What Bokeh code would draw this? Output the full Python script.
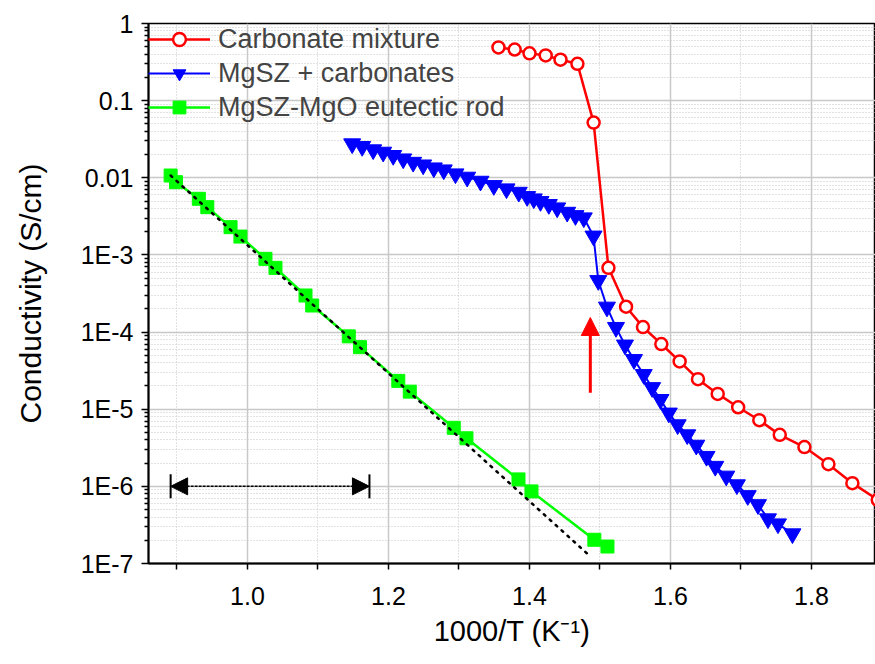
from bokeh.plotting import figure
from bokeh.models import (FixedTicker, CustomJSTickFormatter, PrintfTickFormatter,
                          Arrow, NormalHead, Legend, LegendItem, Range1d, ColumnDataSource)
from bokeh.embed import file_html
from bokeh.resources import INLINE

# ---- data ----
carb_x = [1.356, 1.379, 1.400, 1.423, 1.444, 1.468, 1.491, 1.512, 1.537, 1.561, 1.587,
          1.613, 1.639, 1.667, 1.696, 1.726, 1.755, 1.790, 1.824, 1.858, 1.894]
carb_y = [0.49, 0.46, 0.41, 0.385, 0.34, 0.30, 0.052, 6.8e-4, 2.13e-4, 1.16e-4, 7.0e-5,
          4.17e-5, 2.45e-5, 1.58e-5, 1.06e-5, 7.2e-6, 4.65e-6, 3.23e-6, 1.94e-6, 1.10e-6, 6.7e-7]

mgsz_x = [1.1485, 1.1627, 1.1783, 1.1925, 1.2067, 1.2209, 1.2350, 1.2492, 1.2643, 1.2784,
          1.2950, 1.3116, 1.3305, 1.3494, 1.3674, 1.3848, 1.3967, 1.4061, 1.4156, 1.4274,
          1.4393, 1.4535, 1.4652, 1.4770,
          1.4908, 1.4976, 1.5099, 1.5227, 1.5355, 1.5482, 1.5621, 1.5740, 1.5858, 1.5976,
          1.6102, 1.6238, 1.6366, 1.6511, 1.6635, 1.6791, 1.6942, 1.7096, 1.7241, 1.7383,
          1.7525, 1.7730]
mgsz_y = [0.0276, 0.0255, 0.0231, 0.0215, 0.0195, 0.0176, 0.0159, 0.0147, 0.01346, 0.01268,
          0.01126, 0.0102, 0.00904, 0.00794, 0.00720, 0.0065, 0.00572, 0.00534, 0.00493, 0.00451,
          0.00408, 0.00358, 0.00324, 0.00303,
          1.76e-3, 4.66e-4, 2.11e-4, 1.15e-4, 6.8e-5, 4.41e-5, 2.82e-5, 1.91e-5, 1.34e-5, 8.93e-6,
          6.3e-6, 4.67e-6, 3.42e-6, 2.45e-6, 1.82e-6, 1.36e-6, 1.05e-6, 7.6e-7, 5.8e-7, 3.8e-7,
          3.27e-7, 2.43e-7]

rod_x = [0.891, 0.8986, 0.931, 0.943, 0.976, 0.990, 1.0255, 1.0397, 1.0823, 1.0918,
         1.1437, 1.1596, 1.2139, 1.2302, 1.2926, 1.3106, 1.3844, 1.4028, 1.492, 1.5106]
rod_y = [0.0107, 0.00877, 0.00534, 0.00416, 0.00229, 0.00173, 8.9e-4, 6.8e-4, 2.98e-4, 2.21e-4,
         8.8e-5, 6.37e-5, 2.33e-5, 1.69e-5, 5.74e-6, 4.2e-6, 1.23e-6, 8.6e-7, 2.03e-7, 1.66e-7]

fit_x = [0.891, 1.4865]
fit_y = [0.0107, 1.23e-7]

span_x = [0.891, 1.173]      # double arrow extent
span_y = 1e-6
span_bar = [0.70e-6, 1.43e-6]
red_arrow_x = 1.4863
red_arrow_y = [1.64e-5, 1.545e-4]

x_major = [1.0, 1.2, 1.4, 1.6, 1.8]
x_minor = [0.9, 1.1, 1.3, 1.5, 1.7, 1.9]
y_major = [1e-7, 1e-6, 1e-5, 1e-4, 1e-3, 1e-2, 1e-1, 1.0]
y_minor = [m * 10.0 ** k for k in range(-7, 0) for m in range(2, 10)]

RED = "#ff0000"
BLUE = "#0000ff"
GREEN = "#00ff00"
FONT = "Liberation Sans"
NARROW = "'Liberation Sans Narrow', 'Liberation Sans'"

p = figure(width=875, height=664, y_axis_type="log",
           x_range=Range1d(0.8596, 1.8908), y_range=Range1d(1e-7, 1.0),
           output_backend="svg", toolbar_location=None,
           min_border_left=148, min_border_right=0, min_border_top=23, min_border_bottom=101)

p.background_fill_color = "white"
p.border_fill_color = "white"
p.outline_line_color = "black"
p.outline_line_width = 1.5

# axes
p.xaxis.ticker = FixedTicker(ticks=x_major, minor_ticks=x_minor)
p.yaxis.ticker = FixedTicker(ticks=y_major, minor_ticks=y_minor)
p.xaxis.formatter = PrintfTickFormatter(format="%.1f")
p.yaxis.formatter = CustomJSTickFormatter(code="""
const e = Math.round(Math.log10(tick));
if (e >= -2) { return (Math.pow(10, e)).toFixed(Math.max(0, -e)); }
return "1E" + e;
""")
for ax in (p.xaxis[0], p.yaxis[0]):
    ax.axis_line_width = 2
    ax.axis_line_color = "black"
    ax.major_tick_line_width = 1.5
    ax.minor_tick_line_width = 1.5
    ax.major_tick_in = 0
    ax.minor_tick_in = 0
    ax.axis_label_text_font_style = "normal"
    ax.major_label_text_color = "black"
    ax.axis_label_text_color = "black"

p.yaxis.major_tick_out = 7
p.yaxis.minor_tick_out = 4
p.yaxis.major_label_standoff = 8
p.yaxis.major_label_text_font = FONT
p.yaxis.major_label_text_font_size = "25px"
p.yaxis.axis_label = "Conductivity (S/cm)"
p.yaxis.axis_label_text_font = FONT
p.yaxis.axis_label_text_font_size = "30px"
p.yaxis.axis_label_standoff = 31

p.xaxis.major_tick_out = 6
p.xaxis.minor_tick_out = 6
p.xaxis.major_label_standoff = 17
p.xaxis.major_label_text_font = NARROW
p.xaxis.major_label_text_font_size = "25px"
p.xaxis.axis_label = "1000/T (K\u207b\u00b9)"
p.xaxis.axis_label_text_font = NARROW
p.xaxis.axis_label_text_font_size = "29px"
p.xaxis.axis_label_standoff = 7

# grids
for g in (p.xgrid[0], p.ygrid[0]):
    g.grid_line_color = "#c8c8c8"
    g.grid_line_width = 1.5
    g.minor_grid_line_color = "#c4c4c4"
    g.minor_grid_line_width = 1
    g.minor_grid_line_dash = "1 2"

# series
src_c = ColumnDataSource(dict(x=carb_x, y=carb_y))
src_m = ColumnDataSource(dict(x=mgsz_x, y=mgsz_y))
src_r = ColumnDataSource(dict(x=rod_x, y=rod_y))

ml = p.line("x", "y", source=src_m, line_color=BLUE, line_width=2)
ms = p.scatter("x", "y", source=src_m, marker="inverted_triangle", size=17,
               fill_color=BLUE, line_color=BLUE)

rl = p.line("x", "y", source=src_r, line_color=GREEN, line_width=2.5)
rs = p.scatter("x", "y", source=src_r, marker="square", size=13,
               fill_color=GREEN, line_color=GREEN)

cl = p.line("x", "y", source=src_c, line_color=RED, line_width=2.5)
cs = p.scatter("x", "y", source=src_c, marker="circle", size=12,
               fill_color="white", line_color=RED, line_width=2.5)

# fit line (dotted) on top
p.line(fit_x, fit_y, line_color="black", line_width=2.5, line_dash="2 6", line_cap="round")

# double-headed span arrow
p.add_layout(Arrow(start=NormalHead(size=17, fill_color="black", line_color="black"),
                   end=NormalHead(size=17, fill_color="black", line_color="black"),
                   x_start=span_x[0], y_start=span_y, x_end=span_x[1], y_end=span_y,
                   line_color="black", line_width=1.5, line_dash="3 1"))
p.segment(x0=span_x, y0=[span_bar[0]] * 2, x1=span_x, y1=[span_bar[1]] * 2,
          line_color="black", line_width=2)

# red arrow
p.add_layout(Arrow(end=NormalHead(size=18, fill_color=RED, line_color=RED),
                   x_start=red_arrow_x, y_start=red_arrow_y[0],
                   x_end=red_arrow_x, y_end=red_arrow_y[1],
                   line_color=RED, line_width=3))

legend = Legend(items=[LegendItem(label="Carbonate mixture", renderers=[cl, cs]),
                       LegendItem(label="MgSZ + carbonates", renderers=[ml, ms]),
                       LegendItem(label="MgSZ-MgO eutectic rod", renderers=[rl, rs])],
                location="top_left")
legend.margin = 0
legend.padding = 2
legend.spacing = 2
legend.glyph_width = 62
legend.glyph_height = 32
legend.label_height = 32
legend.label_standoff = 8
legend.label_text_font = FONT
legend.label_text_font_size = "27px"
legend.background_fill_alpha = 0
legend.border_line_color = None
p.add_layout(legend)

open("out.html", "w").write(file_html(p, INLINE))
